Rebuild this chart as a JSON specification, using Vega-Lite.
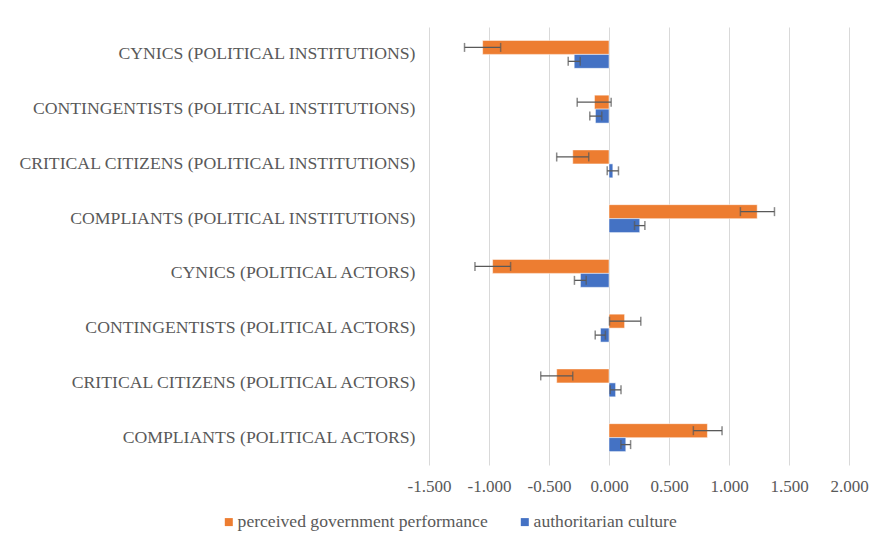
{
  "$schema": "https://vega.github.io/schema/vega-lite/v6.json",
  "autosize": "none",
  "width": 420,
  "height": 438,
  "padding": {"left": 429, "top": 27, "right": 39, "bottom": 86},
  "background": "white",
  "config": {"view": {"stroke": null}, "font": "Liberation Serif"},
  "data": {"values": [
    {"category": "CYNICS (POLITICAL INSTITUTIONS)", "series": "perceived government performance", "value": -1.053, "lo": -1.204, "hi": -0.903},
    {"category": "CYNICS (POLITICAL INSTITUTIONS)", "series": "authoritarian culture", "value": -0.290, "lo": -0.340, "hi": -0.240},
    {"category": "CONTINGENTISTS (POLITICAL INSTITUTIONS)", "series": "perceived government performance", "value": -0.121, "lo": -0.265, "hi": 0.018},
    {"category": "CONTINGENTISTS (POLITICAL INSTITUTIONS)", "series": "authoritarian culture", "value": -0.113, "lo": -0.160, "hi": -0.060},
    {"category": "CRITICAL CITIZENS (POLITICAL INSTITUTIONS)", "series": "perceived government performance", "value": -0.302, "lo": -0.436, "hi": -0.169},
    {"category": "CRITICAL CITIZENS (POLITICAL INSTITUTIONS)", "series": "authoritarian culture", "value": 0.032, "lo": -0.015, "hi": 0.079},
    {"category": "COMPLIANTS (POLITICAL INSTITUTIONS)", "series": "perceived government performance", "value": 1.235, "lo": 1.095, "hi": 1.379},
    {"category": "COMPLIANTS (POLITICAL INSTITUTIONS)", "series": "authoritarian culture", "value": 0.256, "lo": 0.213, "hi": 0.299},
    {"category": "CYNICS (POLITICAL ACTORS)", "series": "perceived government performance", "value": -0.970, "lo": -1.117, "hi": -0.820},
    {"category": "CYNICS (POLITICAL ACTORS)", "series": "authoritarian culture", "value": -0.238, "lo": -0.288, "hi": -0.190},
    {"category": "CONTINGENTISTS (POLITICAL ACTORS)", "series": "perceived government performance", "value": 0.130, "lo": 0.004, "hi": 0.265},
    {"category": "CONTINGENTISTS (POLITICAL ACTORS)", "series": "authoritarian culture", "value": -0.071, "lo": -0.115, "hi": -0.030},
    {"category": "CRITICAL CITIZENS (POLITICAL ACTORS)", "series": "perceived government performance", "value": -0.436, "lo": -0.569, "hi": -0.302},
    {"category": "CRITICAL CITIZENS (POLITICAL ACTORS)", "series": "authoritarian culture", "value": 0.055, "lo": 0.010, "hi": 0.100},
    {"category": "COMPLIANTS (POLITICAL ACTORS)", "series": "perceived government performance", "value": 0.820, "lo": 0.703, "hi": 0.942},
    {"category": "COMPLIANTS (POLITICAL ACTORS)", "series": "authoritarian culture", "value": 0.140, "lo": 0.099, "hi": 0.180}
  ]},
  "encoding": {
    "y": {
      "field": "category", "type": "nominal",
      "sort": ["CYNICS (POLITICAL INSTITUTIONS)", "CONTINGENTISTS (POLITICAL INSTITUTIONS)", "CRITICAL CITIZENS (POLITICAL INSTITUTIONS)", "COMPLIANTS (POLITICAL INSTITUTIONS)", "CYNICS (POLITICAL ACTORS)", "CONTINGENTISTS (POLITICAL ACTORS)", "CRITICAL CITIZENS (POLITICAL ACTORS)", "COMPLIANTS (POLITICAL ACTORS)"],
      "scale": {"paddingInner": 0.49, "paddingOuter": 0.245},
      "axis": {"title": null, "domain": false, "ticks": false, "labelPadding": 14, "labelFont": "Liberation Serif", "labelFontSize": 17.7, "labelColor": "#595959", "labelLimit": 500}
    },
    "yOffset": {"field": "series", "type": "nominal", "sort": ["perceived government performance", "authoritarian culture"]}
  },
  "layer": [
    {
      "mark": {"type": "bar", "stroke": "white", "strokeWidth": 0.5},
      "encoding": {
        "x": {
          "field": "value", "type": "quantitative",
          "scale": {"domain": [-1.5, 2.0], "nice": false, "zero": false},
          "axis": {"title": null, "values": [-1.5, -1.0, -0.5, 0, 0.5, 1.0, 1.5, 2.0], "labelOverlap": false, "labelFlush": false, "labelExpr": "replace(format(datum.value, '.3f'), '\u2212', '-')", "domain": false, "ticks": false, "grid": true, "gridColor": "#d9d9d9", "gridWidth": 1, "labelPadding": 13, "labelFont": "Liberation Serif", "labelFontSize": 17, "labelColor": "#595959"}
        },
        "color": {
          "field": "series", "type": "nominal",
          "scale": {"domain": ["perceived government performance", "authoritarian culture"], "range": ["#ED7D31", "#4472C4"]},
          "legend": {"title": null, "orient": "none", "direction": "horizontal", "legendX": -209, "legendY": 486, "symbolType": "square", "symbolSize": 64, "symbolStrokeWidth": 0, "labelFont": "Liberation Serif", "labelFontSize": 17.6, "labelColor": "#595959", "labelLimit": 500, "columnPadding": 28, "labelOffset": 0}
        }
      }
    },
    {
      "mark": {"type": "rule", "color": "#595959", "strokeWidth": 1.3},
      "encoding": {"x": {"field": "lo", "type": "quantitative"}, "x2": {"field": "hi"}}
    },
    {
      "mark": {"type": "tick", "color": "#595959", "thickness": 1.5, "size": 9},
      "encoding": {"x": {"field": "lo", "type": "quantitative"}}
    },
    {
      "mark": {"type": "tick", "color": "#595959", "thickness": 1.5, "size": 9},
      "encoding": {"x": {"field": "hi", "type": "quantitative"}}
    }
  ]
}
